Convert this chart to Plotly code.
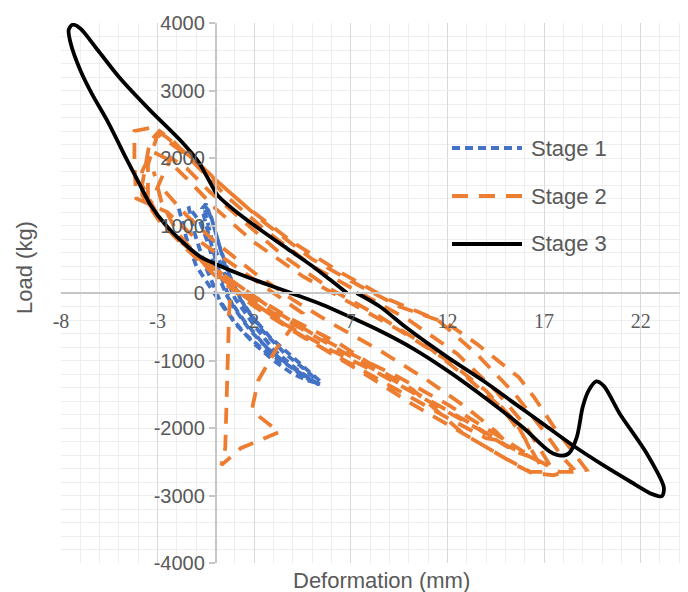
import plotly.graph_objects as go

# ---------------- data ----------------
stage1_x = [-1.9, -1.5, -1.0, -0.3, 0.5, 1.5, 2.6, 3.8, 5.0, 5.4,
            5.2, 4.2, 3.0, 2.0, 1.0, 0.3, -0.2, -0.5, -0.6, -0.3, 0.2, 0.8, 1.6,
            2.8, 4.0, 5.0, 5.5, 5.3, 4.2, 2.9, 1.8, 0.9, 0.2, -0.3, -0.7, -0.5, -0.1, 0.5, 1.3, 2.4, 3.6,
            4.7, 5.2, 4.9, 3.8, 2.6, 1.5, 0.6, 0.0, -0.4, -0.8, -1.4, -1.1,
            -0.6, 0.2, 1.0, 2.0, 3.0, 4.0, 4.8, 5.3]
stage1_y = [1250, 800, 400, 100, -250, -600, -870, -1080, -1300, -1350,
            -1330, -1130, -840, -480, -80, 400, 800, 1150, 1300, 1200, 700, 200, -250,
            -650, -950, -1200, -1330, -1350, -1150, -880, -560, -200, 300, 800, 1250, 1320, 1000, 400, -100, -550, -900,
            -1150, -1280, -1300, -1080, -800, -420, -50, 350, 750, 1050, 1280, 900,
            450, -100, -450, -750, -1000, -1200, -1300, -1340]

stage2_x = [-2.6, -1.5, 0, 2, 4, 6, 8.5, 11, 13, 14.5, 15,
            14, 12, 9.5, 7, 4.5, 2, 0, -1.5, -3, -3.8,
            -3.8, -3.3, -2.6, -1.5, 0, 2, 4.5, 7, 9.5, 12, 14, 15.5, 16.5, 17,
            16.3, 15, 12.8, 10.2, 8, 6, 4, 2, 0.8,
            0.7, 0.6, 0.5, 0.3, 1.3, 3.3, 2.3, 1.9, 2.2, 3.2, 4.5, 3, 1, -1, -2.5, -4.1,
            -4.2, -4.2, -3.3, -2.5, -1, 0.5, 2.5, 5, 7.5, 9.5, 12, 13.5, 15.7, 16.5, 17.5, 18.5, 19.2,
            18.5, 17.8, 16.5, 14.5, 12, 9.5, 7, 5, 3, 1, -1, -2.5, -3.5,
            -3.5, -3, -2, -0.5, 1.5, 4, 6.5, 9, 11.5, 13.5, 15.5, 17, 18, 18.5,
            17.5, 16.4, 15.7, 14, 12.8, 11.6, 10.2, 8.5, 6.4, 4, 2, 0, -2, -3, -3.8,
            -3.4, -2.9, -2.2, -1, 0.5, 2.5, 5, 7.5, 10, 12.5, 14.5, 16, 17.3,
            16.8, 15, 13, 10.5, 8, 5.5, 3, 1, -1, -2.3, -3.4,
            -2.8, -2.3, -1.5, -0.3, 1.5, 3.5, 6, 8.5, 11, 13, 14.8, 16, 16.5,
            15.5, 13.5, 11, 8.5, 6, 3.5, 1.5, -0.5, -2, -2.8, -3.2]
stage2_y = [1500, 1150, 750, 300, -100, -450, -850, -1300, -1700, -2050, -2200,
            -2150, -1850, -1450, -1050, -650, -200, 250, 650, 1100, 1450,
            1800, 2100, 2000, 1700, 1250, 750, 250, -150, -550, -1000, -1450, -1900, -2400, -2650,
            -2650, -2450, -2080, -1650, -1250, -900, -550, -150, 100,
            -300, -1500, -2300, -2550, -2300, -2060, -1840, -1700, -1300, -800, -300, 0, 400, 800, 1200, 1400,
            1900, 2400, 2450, 2300, 1950, 1550, 1050, 500, 100, -200, -450, -750, -1250, -1550, -1980, -2370, -2620,
            -2650, -2650, -2450, -2100, -1650, -1250, -900, -600, -250, 150, 550, 950, 1350,
            1900, 2350, 2150, 1800, 1300, 750, 300, -100, -400, -900, -1500, -2050, -2450, -2600,
            -2700, -2670, -2570, -2280, -2080, -1780, -1430, -1140, -750, -400, -50, 350, 800, 1150, 1600,
            2250, 2400, 2250, 1900, 1450, 950, 400, 0, -400, -900, -1450, -1950, -2550,
            -2500, -2250, -1900, -1500, -1100, -700, -300, 100, 550, 900, 1300,
            1700, 2000, 1850, 1500, 1050, 550, 50, -350, -800, -1250, -1700, -2150, -2450,
            -2350, -2000, -1600, -1200, -850, -450, -50, 400, 900, 1350, 1800]

stage3_x = [7.3, 8.5, 9.9, 12.0, 14.0, 15.4, 17.0, 18.5, 20.0, 21.5, 22.6, 23.1, 23.2, 22.3, 20.9, 20.1, 19.7,
            19.3, 19.0, 18.7, 18.3, 17.9, 17.3, 15.9, 13.7, 12.0, 10.2, 8.5, 7.0, 5.5, 3.7, 1.6, 0.0, -0.8,
            -1.5, -2.5, -3.4, -4.0, -4.6, -5.6, -6.4, -7.0, -7.5, -7.6, -7.4, -7.0, -6.1, -5.0, -3.4, -1.85,
            -0.9, -0.4, 0.1, 0.7, 1.4, 2.5, 3.9, 5.0, 6.0, 6.8]
stage3_y = [0, -200, -520, -950, -1330, -1620, -1950, -2260, -2540, -2800, -2980, -3010, -2880, -2370, -1780,
            -1380, -1310, -1450, -1690, -2130, -2370, -2410, -2350, -1990, -1500, -1150, -820, -560, -360, -170,
            20, 240, 430, 540, 700, 980, 1320, 1650, 1980, 2550, 2950, 3300, 3700, 3900, 3975, 3920, 3600, 3200,
            2710, 2270, 1950, 1700, 1450, 1290, 1130, 900, 620, 400, 180, 0]

series_names = ["Stage 1", "Stage 2", "Stage 3"]
series_colors = ["#4472c4", "#ed7d31", "#000000"]
series_dash = ["8px,5px", "16px,11px", "solid"]

x_ticks = [-8, -3, 2, 7, 12, 17, 22]
y_ticks = [-4000, -3000, -2000, -1000, 0, 1000, 2000, 3000, 4000]

X_MIN, X_MAX = -8, 24.45
Y_MIN, Y_MAX = -4000, 4000

# page body has an 8px margin: work in reference pixels, shift by OFF
OFF = 8
W, H = 688 - OFF, 592 - OFF
ML, MR, MT, MB = 61 - OFF, 0, 23 - OFF, 29
pw, ph = W - ML - MR, H - MT - MB


def px_x(px):
    return (px - OFF - ML) / pw


def px_y(py):
    return ((H - MB) - (py - OFF)) / ph


# ---------------- figure ----------------
fig = go.Figure()
data = [(stage1_x, stage1_y), (stage2_x, stage2_y), (stage3_x, stage3_y)]
for i, (xs, ys) in enumerate(data):
    fig.add_trace(go.Scatter(
        x=xs, y=ys, mode="lines", name=series_names[i], showlegend=False,
        line=dict(color=series_colors[i], width=3.8, dash=series_dash[i],
                  shape="spline" if i == 2 else "linear", smoothing=0.8),
    ))

gray_text = "#595959"
fig.update_layout(
    width=W, height=H,
    margin=dict(l=ML, r=MR, t=MT, b=MB),
    paper_bgcolor="white", plot_bgcolor="white",
    showlegend=False,
)

fig.update_xaxes(
    range=[X_MIN, X_MAX], tickmode="array", tickvals=x_ticks,
    ticktext=[str(v) for v in x_ticks],
    showgrid=True, gridcolor="#d9d9d9", gridwidth=1.3,
    minor=dict(dtick=1, tick0=-8, showgrid=True, gridcolor="#eeeeee", gridwidth=1.3),
    zeroline=False, showline=True, linecolor="#c6c6c6", linewidth=1.5,
    anchor="free", position=(0 - Y_MIN) / (Y_MAX - Y_MIN),
    ticks="", ticklabelstandoff=10,
    tickfont=dict(family="Liberation Serif", size=20, color=gray_text),
)
fig.update_yaxes(
    range=[Y_MIN, Y_MAX], tickmode="array", tickvals=y_ticks,
    ticktext=[str(v) for v in y_ticks],
    showgrid=True, gridcolor="#eeeeee", gridwidth=1.3,
    minor=dict(dtick=200, tick0=0, showgrid=True, gridcolor="#eeeeee", gridwidth=1.3),
    zeroline=False, showline=True, linecolor="#c6c6c6", linewidth=1.5,
    anchor="free", position=(0 - X_MIN) / (X_MAX - X_MIN),
    ticks="outside", ticklen=6, tickcolor="#c6c6c6", tickwidth=1.5,
    tickfont=dict(family="Liberation Sans", size=20, color=gray_text),
)

# axis titles
fig.add_annotation(text="Deformation (mm)", xref="paper", yref="paper",
                   x=px_x(381), y=px_y(580),
                   showarrow=False, xanchor="center", yanchor="middle",
                   font=dict(family="Liberation Sans", size=22, color=gray_text))
fig.add_annotation(text="Load (kg)", xref="paper", yref="paper", textangle=-90,
                   x=px_x(24), y=px_y(268),
                   showarrow=False, xanchor="center", yanchor="middle",
                   font=dict(family="Liberation Sans", size=22, color=gray_text))

# legend (drawn manually to match long sample lines)
leg_y_px = [148, 196, 244]
for i, name in enumerate(series_names):
    yp = px_y(leg_y_px[i])
    fig.add_shape(type="line", xref="paper", yref="paper",
                  x0=px_x(452), x1=px_x(522), y0=yp, y1=yp,
                  line=dict(color=series_colors[i], width=3.8, dash=series_dash[i]))
    fig.add_annotation(text=name, xref="paper", yref="paper",
                       x=px_x(529), y=yp, xanchor="left", yanchor="middle",
                       showarrow=False,
                       font=dict(family="Liberation Sans", size=22, color=gray_text))

fig.write_html("out.html")
